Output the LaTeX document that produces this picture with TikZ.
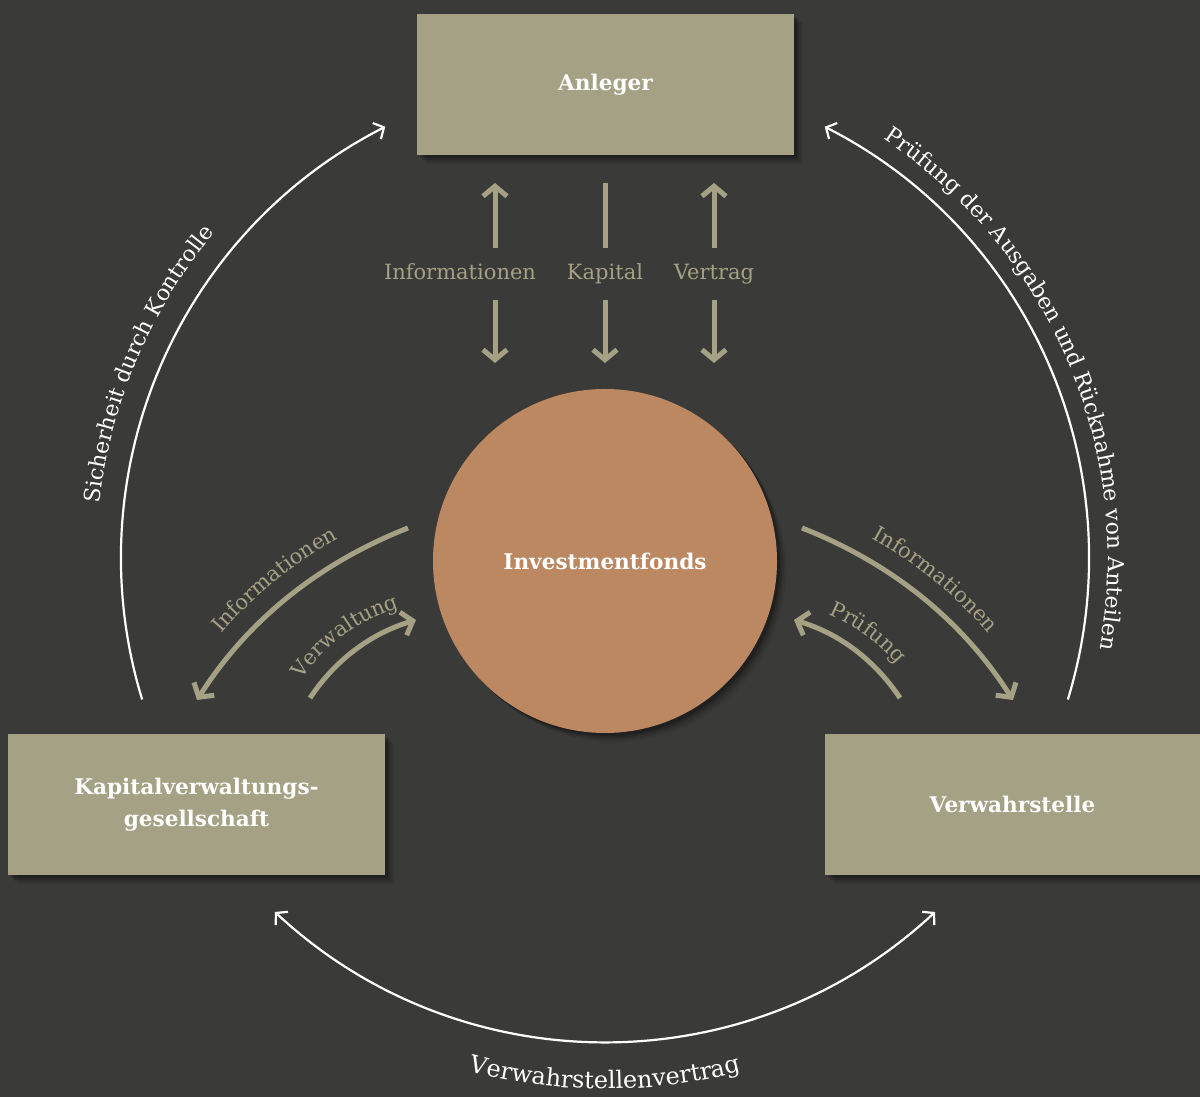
\documentclass[tikz,border=0pt]{standalone}
\usepackage{fontspec}
\setmainfont{DejaVu Serif}
\usetikzlibrary{arrows.meta,shadows,decorations.text}
\definecolor{bg}{HTML}{3A3A38}
\definecolor{olive}{HTML}{A5A184}
\definecolor{copper}{HTML}{BC8862}
\newcommand{\lblfont}{\fontsize{10.5}{12}\selectfont}
\newcommand{\arcfont}{\fontsize{11}{13}\selectfont}
\newcommand{\arcfontbig}{\fontsize{12}{14}\selectfont}
\begin{document}
\begin{tikzpicture}[x=0.5pt,y=0.5pt,
  softshadow/.style={
    general shadow={shadow xshift=1.5pt, shadow yshift=-1.5pt, opacity=0.18, fill=black},
    general shadow={shadow xshift=2.5pt, shadow yshift=-2.5pt, opacity=0.14, fill=black},
    general shadow={shadow xshift=3.5pt, shadow yshift=-3.5pt, opacity=0.10, fill=black},
    general shadow={shadow xshift=4.5pt, shadow yshift=-4.5pt, opacity=0.06, fill=black}},
  box/.style={fill=olive, minimum width=188.5pt, minimum height=70.5pt, inner sep=0pt,
    text=white, font=\bfseries\fontsize{10.8}{16}\selectfont, align=center, softshadow},
  fondsstyle/.style={circle, fill=copper, minimum size=172pt, inner sep=0pt,
    text=white, font=\bfseries\fontsize{10.8}{16}\selectfont, softshadow},
  garrow/.style={draw=olive, line width=2.5pt, -{Straight Barb[length=5pt,width=12pt]}},
  gline/.style={draw=olive, line width=2.5pt},
  glabel/.style={text=olive, font=\lblfont, inner sep=0pt, anchor=base},
  warrow/.style={draw=white, line width=1.1pt, -{Straight Barb[length=4pt,width=9pt]}},
  wdarrow/.style={draw=white, line width=1.1pt, {Straight Barb[length=4pt,width=9pt]}-{Straight Barb[length=4pt,width=9pt]}},
]
\useasboundingbox (0,0) rectangle (1200,1097);
\fill[bg] (0,0) rectangle (1200,1097);

% nodes
\node[box] (anleger) at (605.5,1012.5) {Anleger};
\node[box] (kvg) at (196.5,292.5) {Kapitalverwaltungs-\\gesellschaft};
\node[box, minimum width=187.5pt] (verwahr) at (1012.5,292.5) {Verwahrstelle};
\node[fondsstyle] (fonds) at (605,536) {Investmentfonds};

% top arrows
\coordinate (u1a) at (495,849); \coordinate (u1b) at (495,914);
\coordinate (u2a) at (605,849); \coordinate (u2b) at (605,914);
\coordinate (u3a) at (714,849); \coordinate (u3b) at (714,914);
\coordinate (d1a) at (495,797); \coordinate (d1b) at (495,734);
\coordinate (d2a) at (605,797); \coordinate (d2b) at (605,734);
\coordinate (d3a) at (714,797); \coordinate (d3b) at (714,734);
\draw[garrow] (u1a) -- (u1b);
\draw[gline] (u2a) -- (u2b);
\draw[garrow] (u3a) -- (u3b);
\draw[garrow] (d1a) -- (d1b);
\draw[garrow] (d2a) -- (d2b);
\draw[garrow] (d3a) -- (d3b);
\node[glabel] (l1) at (460,817) {Informationen};
\node[glabel] (l2) at (605,817) {Kapital};
\node[glabel] (l3) at (714,817) {Vertrag};

% left curved arrows
\coordinate (li1) at (408,569); \coordinate (li2) at (197,397);
\draw[garrow] (li1) .. controls (319,534) and (248,477) .. (li2);
\coordinate (lv1) at (310,399); \coordinate (lv2) at (416,477);
\draw[garrow] (lv1) .. controls (336,438) and (372,464) .. (lv2);
\path[decorate, decoration={text along path, text align=center, text color=olive,
  text={|\lblfont|Informationen}}]
  (184,413) .. controls (235,493) and (306,550) .. (395,585);
\path[decorate, decoration={text along path, text align=center, text color=olive,
  text={|\lblfont|Verwaltung}}]
  (298,413) .. controls (324,452) and (360,478) .. (405,491);

% right curved arrows
\coordinate (ri1) at (802,569); \coordinate (ri2) at (1013,397);
\draw[garrow] (ri1) .. controls (891,534) and (962,477) .. (ri2);
\coordinate (rp1) at (900,399); \coordinate (rp2) at (794,477);
\draw[garrow] (rp1) .. controls (874,438) and (838,464) .. (rp2);
\path[decorate, decoration={text along path, text align=center, text color=olive,
  text={|\lblfont|Informationen}}]
  (815,585) .. controls (904,550) and (975,493) .. (1026,413);
\path[decorate, decoration={text along path, text align=center, text color=olive,
  text={|\lblfont|Prüfung}}]
  (805,491) .. controls (850,478) and (886,452) .. (912,413);

% outer white arcs
\coordinate (c) at (605,539);
\draw[warrow] ([shift={(197:484)}]c) arc[start angle=197, end angle=117, radius=484];
\draw[warrow] ([shift={(-17:484)}]c) arc[start angle=-17, end angle=63, radius=484];
\draw[wdarrow] ([shift={(227:484)}]c) arc[start angle=227, end angle=313, radius=484];

\path[decorate, decoration={text along path, text align=center, text color=white,
  text={|\arcfont|Sicherheit durch Kontrolle}}]
  ([shift={(198:508)}]c) arc[start angle=198, end angle=116, radius=508];
\path[decorate, decoration={text along path, text align=center, text color=white,
  text={|\arcfont|Prüfung der Ausgaben und Rücknahme von Anteilen}}]
  ([shift={(63:503)}]c) arc[start angle=63, end angle=-17, radius=503];
\path[decorate, decoration={text along path, text align=center, text color=white,
  text={|\arcfontbig|Verwahrstellenvertrag}}]
  ([shift={(227:531)}]c) arc[start angle=227, end angle=313, radius=531];
\end{tikzpicture}
\end{document}
